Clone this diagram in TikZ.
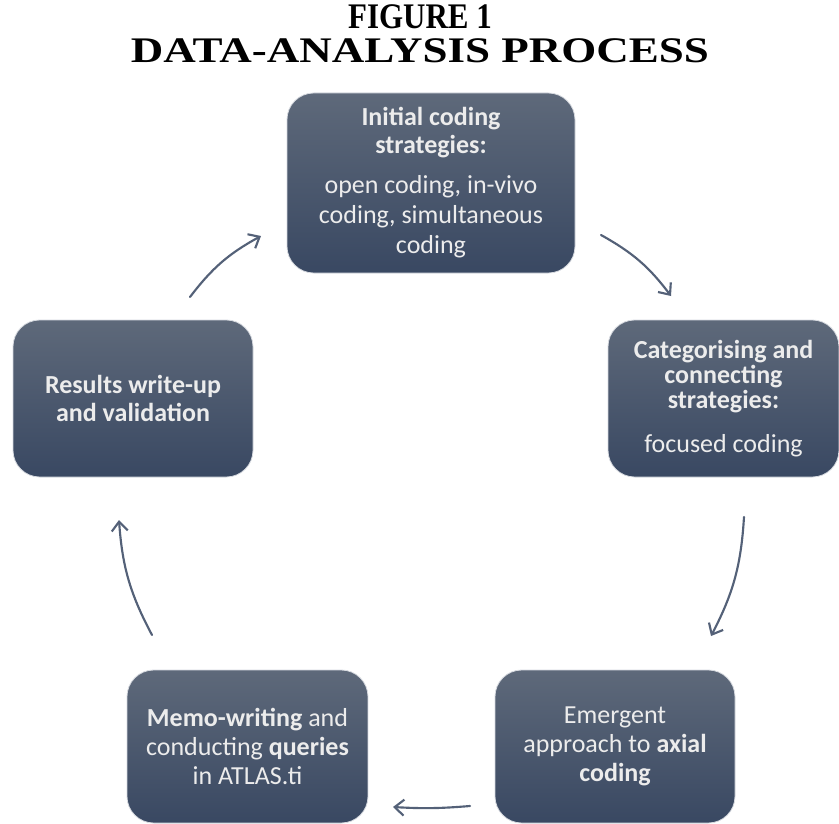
\documentclass[tikz,border=0pt]{standalone}
\usepackage{fontspec}
\setmainfont{Carlito}
\newfontfamily\titlefont{Liberation Serif}
\usetikzlibrary{arrows.meta}
\definecolor{boxtop}{RGB}{94,105,122}
\definecolor{boxbot}{RGB}{57,72,98}
\definecolor{arrowcol}{RGB}{84,97,120}
\definecolor{txt}{RGB}{236,236,236}
\begin{document}
\begin{tikzpicture}[x=0.75pt,y=-0.75pt,
  box/.style={rounded corners=20pt, top color=boxtop, bottom color=boxbot,
    draw=white!80!boxbot, line width=0.6pt, text=txt, align=center, inner sep=0pt},
  cyc/.style={draw=arrowcol, line width=1.6pt, line cap=round,
    -{Straight Barb[length=7pt,width=12pt,line width=1.6pt]}},
  ttl/.style={font=\titlefont\bfseries\fontsize{27}{27}\selectfont, inner sep=0pt}
]
\useasboundingbox (0,0) rectangle (839,824);
\fill[white] (0,0) rectangle (839,824);

\node[ttl] (title1) at (420,17) {\scalebox{0.86}[1]{FIGURE 1}};
\node[ttl] (title2) at (420,51) {\scalebox{1.25}[1]{DATA-ANALYSIS PROCESS}};

\node[box, minimum width=216pt, minimum height=135pt,
  font=\fontsize{19.5}{21}\selectfont] (init) at (431,183)
  {\textbf{Initial coding}\\\textbf{strategies:}\\[9pt]open coding, in-vivo\\[1.5pt]coding, simultaneous\\[1.5pt]coding};

\node[box, minimum width=173.25pt, minimum height=117.75pt,
  font=\fontsize{19.5}{18.75}\selectfont] (cat) at (723.5,398.5)
  {\textbf{Categorising and}\\\textbf{connecting}\\\textbf{strategies:}\\[14.25pt]focused coding};

\node[box, minimum width=180pt, minimum height=114.75pt,
  font=\fontsize{19.5}{22}\selectfont] (axial) at (615,746.5)
  {Emergent\\approach to \textbf{axial}\\\textbf{coding}};

\node[box, minimum width=180.75pt, minimum height=114.75pt,
  font=\fontsize{19.5}{22}\selectfont] (memo) at (247.5,746.5)
  {\textbf{Memo-writing} and\\conducting \textbf{queries}\\in ATLAS.ti};

\node[box, minimum width=180pt, minimum height=117.75pt,
  font=\fontsize{19.5}{21}\selectfont] (results) at (133,398.5)
  {\textbf{Results write-up}\\\textbf{and validation}};

\coordinate (a1s) at (190,297); \coordinate (a1e) at (261,236);
\coordinate (a2s) at (601,235); \coordinate (a2e) at (671,296);
\coordinate (a3s) at (744,517); \coordinate (a3e) at (711,636);
\coordinate (a4s) at (470,806); \coordinate (a4e) at (393,807);
\coordinate (a5s) at (152,635); \coordinate (a5e) at (119,520);

\draw[cyc] (a1s) to[bend left=12] (a1e);
\draw[cyc] (a2s) to[bend left=12] (a2e);
\draw[cyc] (a3s) to[bend left=12] (a3e);
\draw[cyc] (a4s) to[bend left=4] (a4e);
\draw[cyc] (a5s) to[bend left=12] (a5e);
\end{tikzpicture}
\end{document}
